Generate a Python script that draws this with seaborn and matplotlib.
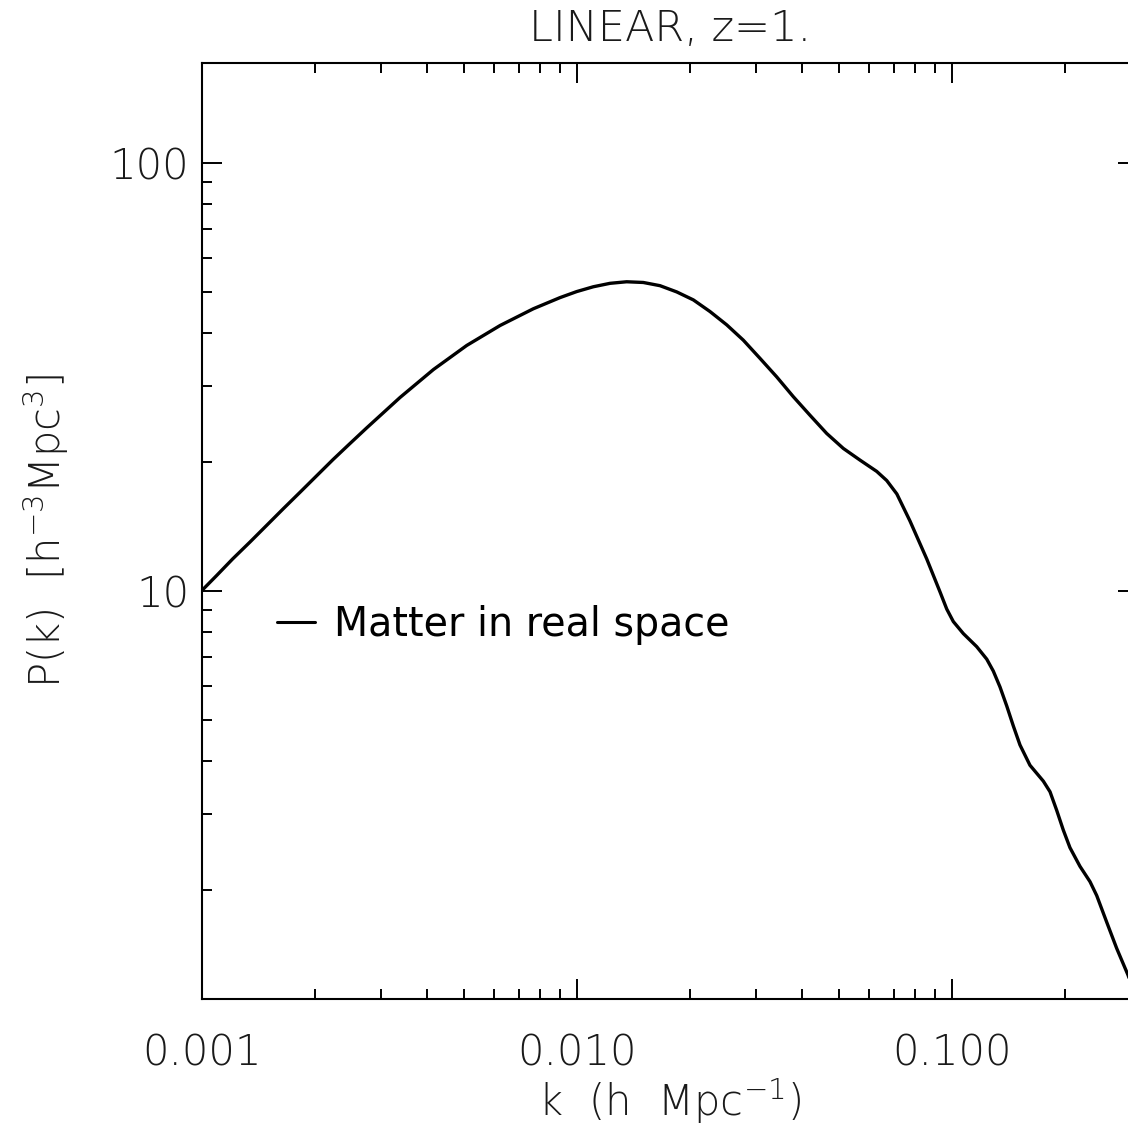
import numpy as np
import pandas as pd
import matplotlib
matplotlib.use("Agg")
import matplotlib.pyplot as plt
import matplotlib.ticker as mticker
import seaborn as sns

# ---- data ----
k_vals = [0.00100, 0.001096, 0.00121, 0.001346, 0.00149, 0.00165, 0.00183, 0.002026,
          0.00224, 0.002485, 0.002754, 0.00338, 0.00415, 0.00509, 0.00625, 0.00766,
          0.00903, 0.0100, 0.01107, 0.01227, 0.01359, 0.01505, 0.01668, 0.01848,
          0.02047, 0.02267, 0.02512, 0.02781, 0.03082, 0.03414, 0.03781, 0.04189,
          0.04642, 0.0514, 0.0569, 0.0631, 0.0671, 0.0714, 0.0774, 0.0858,
          0.0931, 0.0970, 0.1010, 0.1074, 0.1166, 0.1240, 0.1291, 0.1345,
          0.1402, 0.1460, 0.1521, 0.1617, 0.1755, 0.1829, 0.1905, 0.1984,
          0.2067, 0.2198, 0.2338, 0.2436, 0.2591, 0.2754, 0.2952, 0.314]
p_vals = [10.0, 10.85, 11.87, 13.0, 14.21, 15.54, 16.99, 18.56,
          20.25, 22.07, 24.01, 28.28, 32.87, 37.41, 41.66, 45.57,
          48.4, 49.99, 51.3, 52.26, 52.7, 52.5, 51.6, 49.9,
          47.8, 44.9, 41.8, 38.5, 34.9, 31.6, 28.4, 25.7,
          23.3, 21.5, 20.2, 19.0, 18.09, 16.83, 14.55, 11.86,
          9.93, 9.06, 8.47, 7.94, 7.40, 6.92, 6.49, 5.96,
          5.38, 4.83, 4.36, 3.91, 3.59, 3.39, 3.07, 2.76,
          2.51, 2.27, 2.09, 1.94, 1.68, 1.46, 1.265, 1.09]
series_label = "Matter in real space"
title_text = "LINEAR, z=1."
x_label = r"k  (h  Mpc$^{-1}$)"
y_label = r"P(k)  [h$^{-3}$Mpc$^{3}$]"
x_tick_vals = [0.001, 0.01, 0.1]
x_tick_labels = ["0.001", "0.010", "0.100"]
y_tick_vals = [10, 100]
y_tick_labels = ["10", "100"]

df = pd.DataFrame({"k": k_vals, "P": p_vals})

sns.set_style("ticks")
plt.rcParams["font.family"] = ["DejaVu Sans"]
plt.rcParams["mathtext.default"] = "regular"

W, H = 1128, 1142
fig = plt.figure(figsize=(W / 100, H / 100), dpi=100)
left_px, right_px, top_px, bot_px = 201.7, 1138.0, 63.0, 999.0
ax = fig.add_axes([left_px / W, 1 - bot_px / H, (right_px - left_px) / W, (bot_px - top_px) / H])

sns.lineplot(data=df, x="k", y="P", ax=ax, color="black", linewidth=2.4,
             estimator=None, sort=False, label=series_label)

ax.set_xscale("log")
ax.set_yscale("log")
ax.set_xlim(0.001, 10 ** (-3 + (right_px - left_px) / 375.0))
ax.set_ylim(10 ** (1 + (590.7 - bot_px) / 428.0), 10 ** (1 + (590.7 - top_px) / 428.0))

ax.xaxis.set_major_locator(mticker.FixedLocator(x_tick_vals))
ax.xaxis.set_major_formatter(mticker.FixedFormatter(x_tick_labels))
ax.xaxis.set_minor_locator(mticker.LogLocator(base=10, subs=np.arange(2, 10)))
ax.xaxis.set_minor_formatter(mticker.NullFormatter())
ax.yaxis.set_major_locator(mticker.FixedLocator(y_tick_vals))
ax.yaxis.set_major_formatter(mticker.FixedFormatter(y_tick_labels))
ax.yaxis.set_minor_locator(mticker.LogLocator(base=10, subs=np.arange(2, 10)))
ax.yaxis.set_minor_formatter(mticker.NullFormatter())

for s in ax.spines.values():
    s.set_linewidth(1.5)
    s.set_color("black")

ax.tick_params(which="major", direction="in", length=14.4, width=1.4,
               top=True, right=True, color="black")
ax.tick_params(which="minor", direction="in", length=7, width=1.4,
               top=True, right=True, color="black")
ax.tick_params(axis="x", which="major", pad=24, labelsize=30, labelcolor="#1a1a1a")
ax.tick_params(axis="y", which="major", pad=9, labelsize=30, labelcolor="#1a1a1a")
for lab in ax.get_xticklabels() + ax.get_yticklabels():
    lab.set_fontweight("light")

ax.set_xlabel(x_label, fontsize=30, color="#1a1a1a", labelpad=2, fontweight="light")
ax.set_ylabel(y_label, fontsize=30, color="#1a1a1a", labelpad=28, fontweight="light")
ax.set_title(title_text, fontsize=31, color="#1a1a1a", pad=16, fontweight="light")

leg = ax.legend(loc="center left", bbox_to_anchor=((277 - left_px) / (right_px - left_px),
                                                    (bot_px - 625) / (bot_px - top_px)),
                frameon=False, fontsize=28.5, handlelength=0.96, handletextpad=0.48,
                borderpad=0, borderaxespad=0)
for line in leg.get_lines():
    line.set_linewidth(2.2)
for t in leg.get_texts():
    t.set_color("black")

fig.savefig("out.png", dpi=100)
